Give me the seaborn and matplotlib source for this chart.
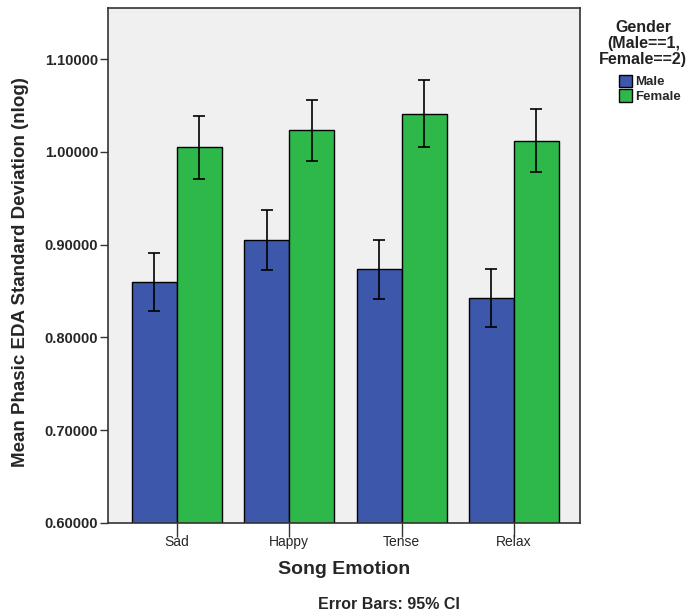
import matplotlib
matplotlib.use("Agg")
import matplotlib.pyplot as plt
import seaborn as sns
import numpy as np
import pandas as pd

# Values
emotions = ["Sad", "Happy", "Tense", "Relax"]
genders = ["Male", "Female"]
male_mean = [0.8597, 0.9050, 0.8737, 0.8425]
female_mean = [1.0052, 1.0235, 1.0407, 1.0116]
male_lo = [0.8284, 0.8726, 0.8414, 0.8112]
male_hi = [0.8910, 0.9373, 0.9050, 0.8737]
female_lo = [0.9707, 0.9900, 1.0050, 0.9780]
female_hi = [1.0386, 1.0558, 1.0774, 1.0461]

colors = {"Male": "#3d58ab", "Female": "#2eb84a"}

df = pd.DataFrame({
    "emotion": emotions * 2,
    "gender": ["Male"] * 4 + ["Female"] * 4,
    "mean": male_mean + female_mean,
    "lo": male_lo + female_lo,
    "hi": male_hi + female_hi,
})

sns.set_theme(style="white")
plt.rcParams["font.family"] = ["Liberation Sans", "DejaVu Sans"]

fig = plt.figure(figsize=(6.97, 6.16), dpi=100)
ax = fig.add_axes([0.155, 0.151, 0.677, 0.836])
ax.set_facecolor("#f0f0f0")

sns.barplot(data=df, x="emotion", y="mean", hue="gender", order=emotions,
            hue_order=genders, palette=colors, width=0.8, errorbar=None,
            edgecolor="black", linewidth=1.0, saturation=1, ax=ax, legend=False)

# error bars (95% CI) centred on each bar
for i, g in enumerate(genders):
    sub = df[df["gender"] == g].set_index("emotion").loc[emotions]
    patches = ax.patches[i * 4:(i + 1) * 4]
    xs = [p.get_x() + p.get_width() / 2 for p in patches]
    yerr = [sub["mean"] - sub["lo"], sub["hi"] - sub["mean"]]
    ax.errorbar(xs, sub["mean"], yerr=yerr, fmt="none", ecolor="black",
                elinewidth=1.2, capsize=4.5, capthick=1.2)

ax.set_ylim(0.6, 1.155)
ax.set_xlim(-0.613, 3.587)
yt = np.arange(0.6, 1.101, 0.1)
ax.set_yticks(yt)
ax.set_yticklabels([f"{v:.5f}" for v in yt], fontsize=10.5, fontweight="bold")
ax.set_xticks(range(len(emotions)))
ax.set_xticklabels(emotions, fontsize=10)
ax.tick_params(axis="y", direction="out", length=6, width=1, color="#333333", pad=1,
               left=True)
ax.tick_params(axis="x", direction="out", length=10, width=1, color="#333333", pad=-1,
               bottom=True)
for s in ax.spines.values():
    s.set_color("#333333")
    s.set_linewidth(1.2)

ax.set_xlabel("Song Emotion", fontsize=14, fontweight="bold", labelpad=8)
ax.set_ylabel("Mean Phasic EDA Standard Deviation (nlog)", fontsize=13.5,
              fontweight="bold")
ax.yaxis.set_label_coords(-0.168, 0.487)

fig.text(0.558, 0.018, "Error Bars: 95% CI", fontsize=11.5, fontweight="bold",
         ha="center", va="center")

# legend title drawn separately so the gap to the swatches matches
fig.text(0.923, 0.968, "Gender\n(Male==1,\nFemale==2)", fontsize=11.5,
         fontweight="bold", ha="center", va="top", multialignment="center",
         linespacing=1.1, color="#222222")
handles = [plt.Rectangle((0, 0), 1, 1, facecolor=colors[g], edgecolor="black",
                         linewidth=1) for g in genders]
leg = fig.legend(handles, genders, loc="upper left",
                 bbox_to_anchor=(0.888, 0.879), frameon=False,
                 prop={"size": 9.5, "weight": "bold"}, handlelength=1.0,
                 handleheight=1.1, handletextpad=0.2, labelspacing=0.05,
                 borderpad=0, borderaxespad=0)

fig.savefig("out.png", dpi=100, facecolor="white")
